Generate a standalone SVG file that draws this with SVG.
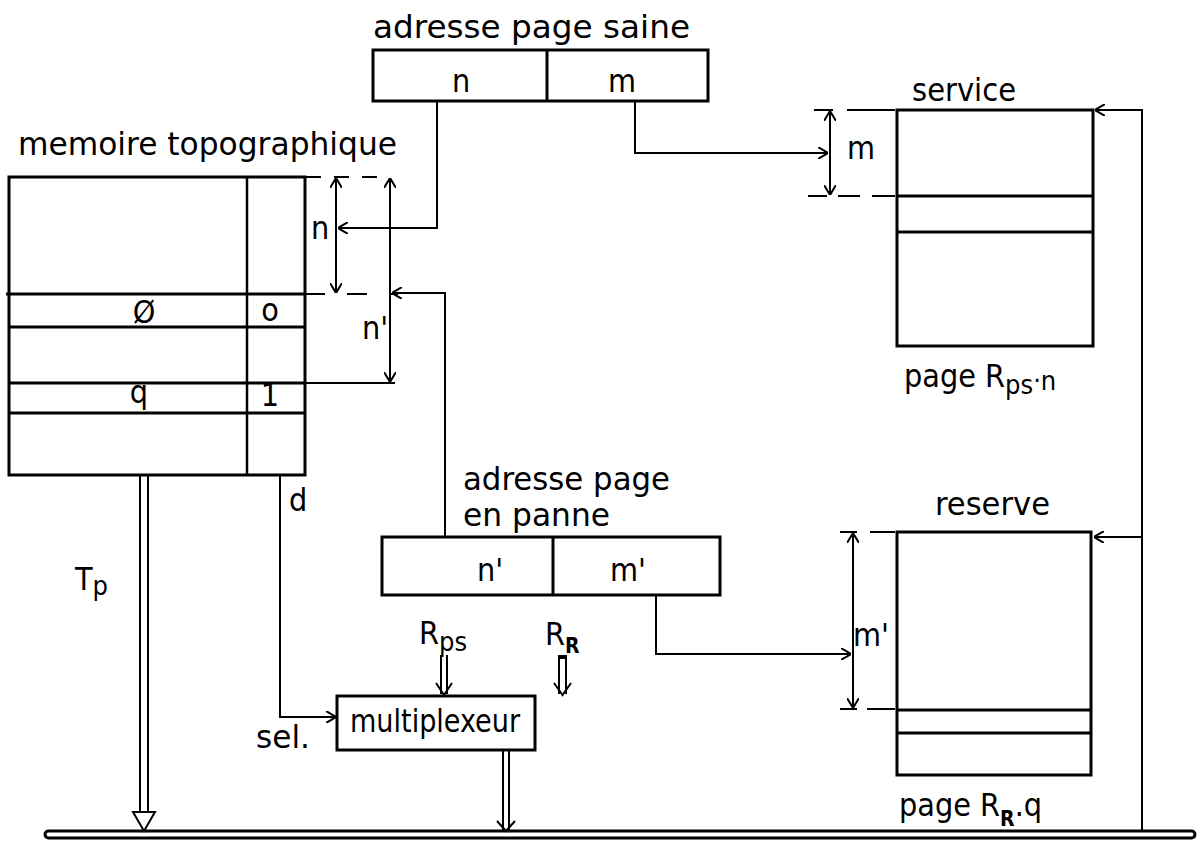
<svg xmlns="http://www.w3.org/2000/svg" width="1202" height="843" viewBox="0 0 1202 843">
<style>
  .box{fill:none;stroke:#000;stroke-width:3}
  .thin{fill:none;stroke:#000;stroke-width:2.5}
  .ln{fill:none;stroke:#000;stroke-width:2}
  .arr{fill:none;stroke:#000;stroke-width:2;marker-end:url(#ah)}
  .dim{fill:none;stroke:#000;stroke-width:2;marker-start:url(#ah);marker-end:url(#ah)}
  .dash{fill:none;stroke:#000;stroke-width:2}
  text{font-family:"DejaVu Sans Condensed","DejaVu Sans","Liberation Sans",sans-serif;font-size:32px;fill:#000}
  .sub{font-size:27px}
</style>
<defs>
  <marker id="ah" viewBox="0 0 10 12" refX="10" refY="6" markerWidth="10" markerHeight="12" markerUnits="userSpaceOnUse" orient="auto-start-reverse">
    <path d="M0,0 L10,6 L0,12" fill="none" stroke="#000" stroke-width="2"/>
  </marker>
</defs>
<rect width="1202" height="843" fill="#fff"/>

<g id="memoire">
  <text x="18" y="155" textLength="379" lengthAdjust="spacingAndGlyphs">memoire topographique</text>
  <rect class="box" x="9" y="177" width="296" height="298" stroke-width="3.5"/>
  <line class="thin" x1="247" y1="177" x2="247" y2="475"/>
  <line class="box" x1="6" y1="294" x2="305" y2="294"/>
  <line class="box" x1="9" y1="327" x2="305" y2="327"/>
  <line class="box" x1="9" y1="383" x2="305" y2="383"/>
  <line class="box" x1="9" y1="413" x2="305" y2="413"/>
  <text x="144" y="323" text-anchor="middle" font-size="26">Ø</text>
  <text x="270" y="321" text-anchor="middle" font-size="26">o</text>
  <text x="139" y="403" text-anchor="middle" font-size="28">q</text>
  <text x="270" y="406" text-anchor="middle" font-size="24">1</text>
</g>

<g id="adresse-saine">
  <text x="373" y="38" textLength="317" lengthAdjust="spacingAndGlyphs">adresse page saine</text>
  <rect class="box" x="373" y="50" width="335" height="51"/>
  <line class="box" x1="547" y1="50" x2="547" y2="101"/>
  <text x="461" y="92" text-anchor="middle" font-size="34">n</text>
  <text x="622" y="92" text-anchor="middle" font-size="34">m</text>
</g>

<g id="service">
  <text x="912" y="101" textLength="104" lengthAdjust="spacingAndGlyphs">service</text>
  <rect class="box" x="897" y="110" width="196" height="236" stroke-width="3.5"/>
  <line class="box" x1="897" y1="196" x2="1093" y2="196"/>
  <line class="box" x1="897" y1="232" x2="1093" y2="232"/>
  <text x="904" y="387">page R<tspan class="sub" dy="7">ps</tspan><tspan class="sub" dy="-4">·n</tspan></text>
</g>

<g id="adresse-panne">
  <text x="463" y="490" textLength="207" lengthAdjust="spacingAndGlyphs">adresse page</text>
  <text x="463" y="526" textLength="147" lengthAdjust="spacingAndGlyphs">en panne</text>
  <rect class="box" x="382" y="537" width="338" height="58"/>
  <line class="box" x1="553" y1="537" x2="553" y2="595"/>
  <text x="490" y="581" text-anchor="middle">n'</text>
  <text x="628" y="581" text-anchor="middle">m'</text>
</g>

<g id="reserve">
  <text x="935" y="515" textLength="115" lengthAdjust="spacingAndGlyphs">reserve</text>
  <rect class="box" x="897" y="532" width="194" height="243" stroke-width="3.5"/>
  <line class="box" x1="897" y1="710" x2="1091" y2="710"/>
  <line class="box" x1="897" y1="733" x2="1091" y2="733"/>
  <text x="899" y="816">page R<tspan font-size="21" font-weight="bold" dy="10">R</tspan><tspan dy="-10">.q</tspan></text>
</g>

<g id="multiplexeur">
  <rect class="box" x="337" y="696" width="198" height="54"/>
  <text x="350" y="732" textLength="170" lengthAdjust="spacingAndGlyphs">multiplexeur</text>
  <text x="256" y="748" textLength="54" lengthAdjust="spacingAndGlyphs">sel.</text>
</g>

<g id="labels">
  <text x="75" y="590">T<tspan class="sub" dy="5">p</tspan></text>
  <text x="289" y="511">d</text>
  <text x="419" y="644">R<tspan class="sub" dy="7">ps</tspan></text>
  <text x="545" y="645">R<tspan font-size="21" font-weight="bold" dy="8">R</tspan></text>
  <text x="311" y="239">n</text>
  <text x="362" y="339">n'</text>
  <text x="847" y="159">m</text>
  <text x="853" y="646">m'</text>
</g>

<g id="connectors">
  <line class="dash" x1="306" y1="177" x2="380" y2="177" stroke-dasharray="15 13"/>
  <line class="dash" x1="305" y1="294" x2="398" y2="294" stroke-dasharray="20 22"/>
  <line class="ln" x1="305" y1="383" x2="395" y2="383"/>
  <path class="dash" d="M814,110 H833 M847,110 H895 M808,196 H827 M838,196 H860 M872,196 H895"/>
  <path class="dash" d="M840,532 H857 M870,532 H895 M840,709 H857 M867,709 H895"/>
  <line class="dim" x1="336" y1="178" x2="336" y2="293"/>
  <line class="dim" x1="390" y1="178" x2="390" y2="382"/>
  <line class="dim" x1="830" y1="111" x2="830" y2="195"/>
  <line class="dim" x1="853" y1="533" x2="853" y2="708"/>
  <path class="arr" d="M437,101 V228 H338"/>
  <path class="arr" d="M635,101 V153 H828"/>
  <path class="arr" d="M445,537 V293 H392"/>
  <path class="arr" d="M656,595 V654 H851"/>
  <path class="arr" d="M280,475 V717 H336"/>
  <path class="arr" d="M1142,831 V110 H1095"/>
  <path class="arr" d="M1142,537 H1094"/>
  <path class="ln" d="M140,476 V812 M148,476 V812"/>
  <polygon points="133,812 155,812 144,831" fill="#fff" stroke="#000" stroke-width="2"/>
  <path class="ln" d="M503,751 V831 M509,751 V831"/>
  <path class="ln" d="M497,821 L506,831 L515,821"/>
  <path class="ln" d="M441,655 V694 M447,655 V694"/>
  <path class="ln" d="M436,683 L444,695 L452,683"/>
  <path class="ln" d="M559,657 V694 M566,657 V694"/>
  <line x1="558" y1="657" x2="567" y2="657" stroke="#000" stroke-width="4"/>
  <path class="ln" d="M554,683 L562.5,695 L571,683"/>
  <rect x="45" y="831" width="1150" height="7" rx="3.5" fill="none" stroke="#000" stroke-width="3"/>
</g>
</svg>
